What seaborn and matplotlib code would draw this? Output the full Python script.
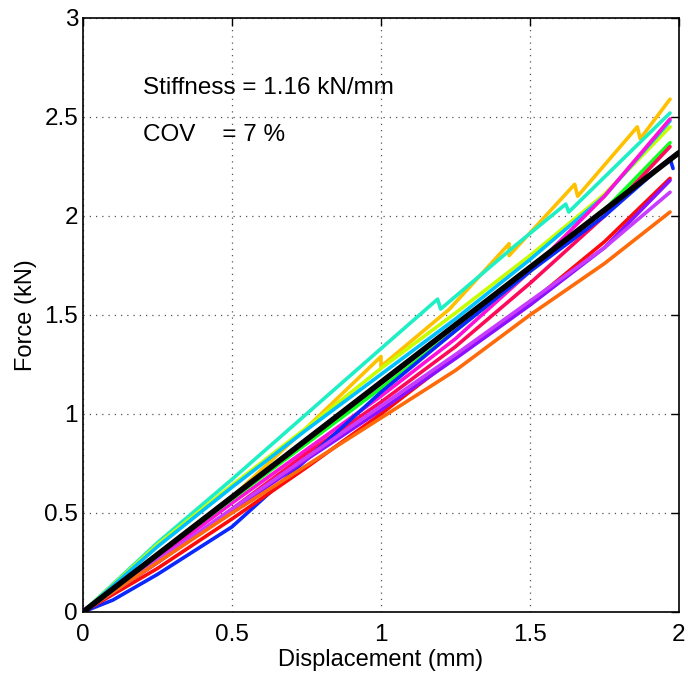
import numpy as np
import pandas as pd
import matplotlib
matplotlib.use("Agg")
import matplotlib.pyplot as plt
import seaborn as sns

# ---- data (displacement mm, force kN) ----
gold_x = [0, 0.25, 0.5, 0.75, 1.0, 1.0, 1.23, 1.43, 1.43, 1.65, 1.66, 1.86, 1.87, 1.97]
gold_y = [0, 0.27, 0.58, 0.93, 1.29, 1.24, 1.53, 1.86, 1.80, 2.16, 2.10, 2.45, 2.39, 2.59]
teal_x = [0, 0.25, 0.5, 0.75, 1.0, 1.19, 1.20, 1.45, 1.62, 1.63, 1.97]
teal_y = [0, 0.35, 0.67, 1.00, 1.33, 1.58, 1.53, 1.85, 2.06, 2.02, 2.52]
grid_x = [0, 0.25, 0.5, 0.75, 1.0, 1.25, 1.5, 1.75, 1.97]
chartreuse_y = [0, 0.34, 0.64, 0.93, 1.23, 1.51, 1.80, 2.11, 2.45]
sky_y = [0, 0.33, 0.63, 0.92, 1.20, 1.48, 1.78, 2.10, 2.48]
magenta_y = [0, 0.27, 0.55, 0.82, 1.09, 1.38, 1.72, 2.10, 2.49]
green_y = [0, 0.29, 0.57, 0.85, 1.13, 1.42, 1.72, 2.03, 2.37]
crimson_y = [0, 0.25, 0.52, 0.80, 1.06, 1.34, 1.66, 2.00, 2.35]
blue_x = [0, 0.1, 0.25, 0.5, 0.75, 1.0, 1.25, 1.5, 1.75, 1.97, 1.98]
blue_y = [0, 0.06, 0.19, 0.43, 0.77, 1.11, 1.42, 1.72, 2.00, 2.29, 2.24]
red_y = [0, 0.22, 0.47, 0.73, 1.00, 1.29, 1.56, 1.87, 2.19]
purple_y = [0, 0.25, 0.51, 0.77, 1.02, 1.28, 1.55, 1.84, 2.18]
violet_y = [0, 0.26, 0.52, 0.78, 1.04, 1.30, 1.57, 1.84, 2.12]
orange_y = [0, 0.25, 0.50, 0.74, 0.98, 1.22, 1.50, 1.76, 2.02]
mean_x = [0, 0.5, 1.0, 1.5, 2.0]
mean_y = [0, 0.58, 1.16, 1.74, 2.32]

specimens = {
    "gold": (gold_x, gold_y, "#FFC000"),
    "teal": (teal_x, teal_y, "#1EEFC4"),
    "chartreuse": (grid_x, chartreuse_y, "#C8FF00"),
    "sky": (grid_x, sky_y, "#00C0FF"),
    "magenta": (grid_x, magenta_y, "#FF10D8"),
    "green": (grid_x, green_y, "#10FF20"),
    "crimson": (grid_x, crimson_y, "#FF0A5A"),
    "blue": (blue_x, blue_y, "#0A28FF"),
    "red": (grid_x, red_y, "#FF0A0A"),
    "purple": (grid_x, purple_y, "#8A10FF"),
    "violet": (grid_x, violet_y, "#C83CFF"),
    "orange": (grid_x, orange_y, "#FF6A0A"),
}

rows = []
for name, (xs, ys, _) in specimens.items():
    for i, (xv, yv) in enumerate(zip(xs, ys)):
        rows.append({"specimen": name, "order": i, "disp": xv, "force": yv})
df = pd.DataFrame(rows)
palette = {k: v[2] for k, v in specimens.items()}
mean_df = pd.DataFrame({"disp": mean_x, "force": mean_y})

sns.set_style("white")
plt.rcParams["font.family"] = ["Liberation Sans", "DejaVu Sans"]
plt.rcParams["text.color"] = "black"
plt.rcParams["axes.labelcolor"] = "black"

fig = plt.figure(figsize=(6.88, 6.76), dpi=100)
ax = fig.add_axes([0.1206, 0.0947, 0.8663, 0.8787])

sns.lineplot(data=df, x="disp", y="force", hue="specimen", units="specimen",
             estimator=None, sort=False, palette=palette, linewidth=2.6,
             legend=False, ax=ax)
sns.lineplot(data=mean_df, x="disp", y="force", color="black", linewidth=4,
             sort=False, ax=ax)

ax.set_xlim(0, 2)
ax.set_ylim(0, 3)
ax.set_xticks([0, 0.5, 1, 1.5, 2])
ax.set_xticklabels(["0", "0.5", "1", "1.5", "2"])
ax.set_yticks([0, 0.5, 1, 1.5, 2, 2.5, 3])
ax.set_yticklabels(["0", "0.5", "1", "1.5", "2", "2.5", "3"])
ax.grid(True, linestyle=(0, (1, 4)), color="#555555", linewidth=0.9)
ax.tick_params(direction="in", length=6, width=1, top=True, right=True,
               labelsize=17.5, colors="black", pad=3.5)
ax.tick_params(axis="x", pad=8.5)
for s in ax.spines.values():
    s.set_color("black")
    s.set_linewidth(1.2)
ax.set_xlabel("Displacement (mm)", fontsize=17, labelpad=2)
ax.set_ylabel("Force (kN)", fontsize=17, labelpad=5)

ax.text(0.2, 2.646, "Stiffness = 1.16 kN/mm", fontsize=17.5, va="center", ha="left", color="black")
ax.text(0.2, 2.41, "COV    = 7 %", fontsize=17.5, va="center", ha="left", color="black")

fig.savefig("out.png", dpi=100)
